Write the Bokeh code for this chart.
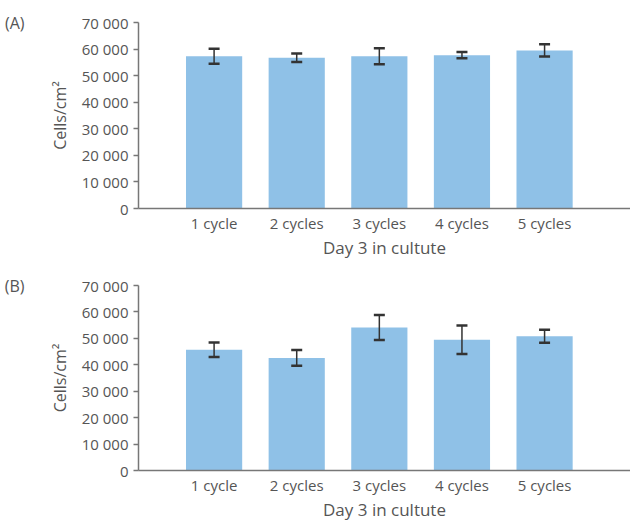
from bokeh.plotting import figure
from bokeh.models import ColumnDataSource, Whisker, TeeHead, FixedTicker, Range1d, LinearAxis
from bokeh.layouts import column
from bokeh.embed import file_html
from bokeh.resources import INLINE

categories = ["1 cycle", "2 cycles", "3 cycles", "4 cycles", "5 cycles"]
y_ticks = [0, 10000, 20000, 30000, 40000, 50000, 60000, 70000]
a_values = [57300, 56700, 57300, 57700, 59500]
a_errors = [2800, 1600, 3000, 1200, 2300]
b_values = [45700, 42600, 54100, 49500, 50800]
b_errors = [2750, 3000, 4700, 5400, 2500]
panel_labels = ["(A)", "(B)"]
x_title = "Day 3 in cultute"
y_title = "Cells/cm\u00b2"

FONT = "Open Sans"
TXT = "#555555"
BAR = "#8fc1e7"
AX = "#777777"


def make_panel(values, errors, tag, height, top_b, bottom_b):
    xs = list(range(1, len(categories) + 1))
    src = ColumnDataSource(dict(
        x=xs, top=values,
        upper=[v + e for v, e in zip(values, errors)],
        lower=[v - e for v, e in zip(values, errors)],
    ))
    p = figure(width=630, height=height, output_backend="svg", toolbar_location=None,
               x_range=Range1d(0.085, 6.04), y_range=Range1d(0, 70000),
               min_border_left=138, min_border_right=0,
               min_border_top=top_b, min_border_bottom=bottom_b)
    p.vbar(x="x", top="top", width=0.68, source=src, fill_color=BAR, line_color=None)
    w = Whisker(base="x", upper="upper", lower="lower", source=src,
                line_color="#333333", line_width=1.5, level="overlay",
                upper_head=TeeHead(size=11, line_color="#333333", line_width=2.5),
                lower_head=TeeHead(size=11, line_color="#333333", line_width=2.5))
    p.add_layout(w)

    p.outline_line_color = None
    p.xgrid.grid_line_color = None
    p.ygrid.grid_line_color = None

    xa = p.xaxis[0]
    xa.ticker = FixedTicker(ticks=xs)
    xa.major_label_overrides = {x: c for x, c in zip(xs, categories)}
    xa.major_tick_line_color = None
    xa.minor_tick_line_color = None
    xa.major_tick_in = 0
    xa.major_tick_out = 0
    xa.axis_line_color = AX
    xa.axis_line_width = 1.5
    xa.major_label_standoff = 4
    xa.major_label_text_font = FONT
    xa.major_label_text_font_size = "15px"
    xa.major_label_text_color = TXT
    xa.axis_label = x_title
    xa.axis_label_text_font = FONT
    xa.axis_label_text_font_size = "17px"
    xa.axis_label_text_font_style = "normal"
    xa.axis_label_text_color = TXT
    xa.axis_label_standoff = 0

    ya = p.yaxis[0]
    ya.ticker = FixedTicker(ticks=y_ticks)
    ya.major_label_overrides = {t: f"{t:,}".replace(",", " ") for t in y_ticks}
    ya.minor_tick_line_color = None
    ya.major_tick_in = 0
    ya.major_tick_out = 5
    ya.major_tick_line_color = AX
    ya.major_tick_line_width = 1.5
    ya.axis_line_color = AX
    ya.axis_line_width = 1.5
    ya.major_label_standoff = 5
    ya.major_label_text_font = FONT
    ya.major_label_text_font_size = "15px"
    ya.major_label_text_color = TXT
    ya.axis_label = y_title
    ya.axis_label_text_font = FONT
    ya.axis_label_text_font_size = "16px"
    ya.axis_label_text_font_style = "normal"
    ya.axis_label_text_color = TXT
    ya.axis_label_standoff = 8

    # panel tag "(A)" / "(B)" drawn as the single label of a bare outer axis
    tag_axis = LinearAxis(ticker=FixedTicker(ticks=[y_ticks[-1]]),
                          major_label_overrides={y_ticks[-1]: tag},
                          axis_line_color=None, major_tick_line_color=None,
                          minor_tick_line_color=None, major_tick_in=0, major_tick_out=0,
                          major_label_standoff=21, major_label_text_font=FONT,
                          major_label_text_font_size="16px", major_label_text_color=TXT)
    p.add_layout(tag_axis, "left")
    return p


pa = make_panel(a_values, a_errors, panel_labels[0], 264, 22, 56)
pb = make_panel(b_values, b_errors, panel_labels[1], 262, 21, 56)
layout = column(pa, pb, spacing=0)

open("out.html", "w").write(file_html(layout, INLINE))
